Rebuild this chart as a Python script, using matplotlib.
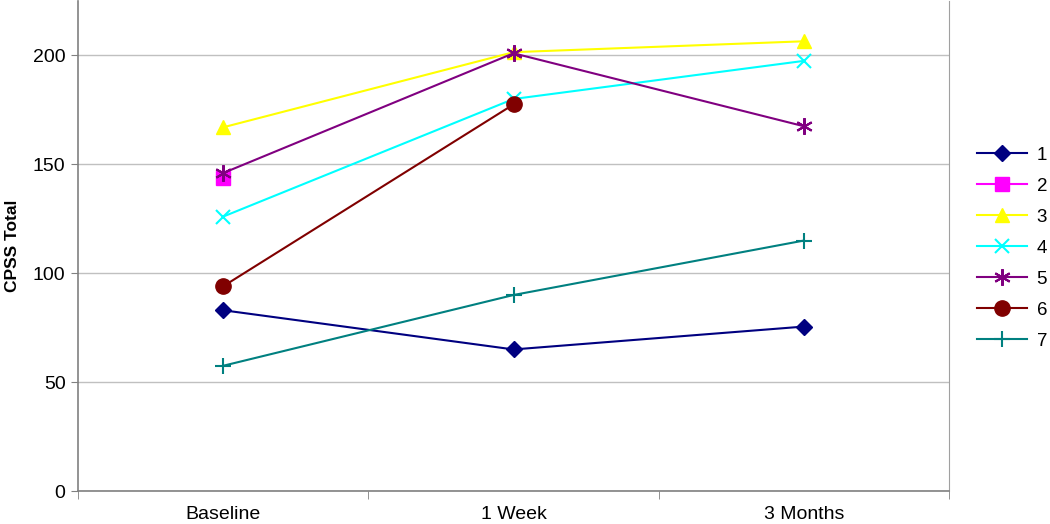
import matplotlib
matplotlib.use("Agg")
import matplotlib.pyplot as plt
import numpy as np

plt.rcParams['font.family'] = ['Liberation Sans', 'DejaVu Sans']

# time points on the x axis
categories = ["Baseline", "1 Week", "3 Months"]

# CPSS totals per subject (nan = missing)
s1 = [83, 65, 75.5]
s2 = [143.5, np.nan, np.nan]
s3 = [167, 201.5, 206.5]
s4 = [126, 180, 197.5]
s5 = [146, 201, 167.5]
s6 = [94, 177.5, np.nan]
s7 = [57.5, 90, 115]

series_names = ["1", "2", "3", "4", "5", "6", "7"]
series_values = [s1, s2, s3, s4, s5, s6, s7]

styles = [
    dict(color="#000080", marker="D", ms=8),
    dict(color="#FF00FF", marker="s", ms=10),
    dict(color="#FFFF00", marker="^", ms=10),
    dict(color="#00FFFF", marker="x", ms=10, mew=1.5),
    dict(color="#800080", marker=(6, 2, 0), ms=12, mew=1.5),
    dict(color="#800000", marker="o", ms=11),
    dict(color="#008080", marker="+", ms=11, mew=1.5),
]

fig = plt.figure(figsize=(10.5, 5.24), dpi=100)
ax = fig.add_axes([78 / 1050, 1 - 491 / 524, 871 / 1050, 490 / 524])

x = np.arange(len(categories))
for name, vals, st in zip(series_names, series_values, styles):
    ax.plot(x, vals, lw=1.5, label=name, clip_on=False, **st)

ax.set_xlim(-0.5, len(categories) - 0.5)
ax.set_ylim(0, 225)
ax.set_yticks([0, 50, 100, 150, 200])
ax.yaxis.grid(True, color="#C0C0C0", lw=1)
ax.set_axisbelow(True)

ax.set_xticks(x)
ax.set_xticklabels(categories, fontsize=14)
ax.set_xticks(np.arange(-0.5, len(categories)), minor=True)
ax.tick_params(axis="x", which="major", length=0, pad=11)
ax.tick_params(axis="x", which="minor", length=6, color="#808080")
ax.tick_params(axis="y", length=5, color="#808080", labelsize=14, pad=4)

ax.set_ylabel("CPSS Total", fontsize=12.5, fontweight="bold", labelpad=9)

for side in ["left", "bottom"]:
    ax.spines[side].set_color("#808080")
    ax.spines[side].set_linewidth(1.2)
ax.spines["right"].set_color("#A0A0A0")
ax.spines["top"].set_visible(False)

leg = ax.legend(loc="upper left", bbox_to_anchor=(1.023, 0.718), frameon=False,
                fontsize=13.5, handlelength=2.7, labelspacing=0.74, handletextpad=0.5,
                borderaxespad=0)

fig.savefig("out.png", dpi=100)
